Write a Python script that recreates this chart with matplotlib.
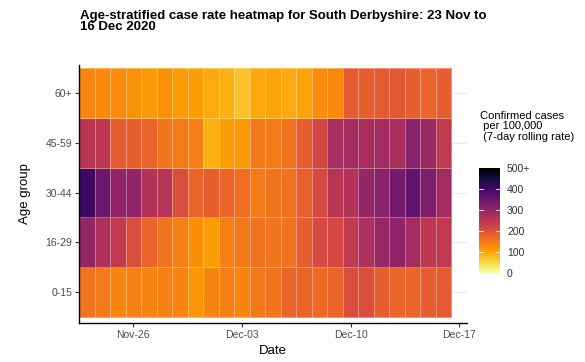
import numpy as np
import pandas as pd
import matplotlib
matplotlib.use("Agg")
import matplotlib.pyplot as plt
import matplotlib.dates as mdates

plt.rcParams['font.family'] = ['Liberation Sans', 'DejaVu Sans']

# donnees (cas pour 100 000, moyenne glissante 7 jours)
dates = pd.date_range('2020-11-23', '2020-12-16', freq='D')
age_groups = ['0-15', '16-29', '30-44', '45-59', '60+']

rate_0_15 = [156, 148, 133, 139, 133, 139, 133, 117, 133, 139, 133, 150,
             156, 172, 172, 167, 172, 206, 206, 183, 172, 172, 183, 186]
rate_16_29 = [300, 267, 244, 206, 172, 156, 139, 124, 109, 139, 150, 158,
              153, 158, 180, 211, 214, 244, 269, 294, 306, 278, 247, 241]
rate_30_44 = [406, 350, 306, 306, 261, 256, 206, 172, 180, 172, 161, 147,
              156, 158, 178, 211, 253, 259, 298, 311, 339, 361, 328, 283]
rate_45_59 = [250, 248, 187, 180, 172, 153, 148, 139, 89, 106, 113, 150,
              148, 156, 180, 217, 276, 278, 272, 283, 272, 311, 292, 244]
rate_60 = [133, 130, 126, 120, 113, 122, 111, 106, 94, 89, 72, 97,
           100, 94, 103, 126, 130, 187, 180, 187, 191, 182, 172, 183]

cb_ticks = [0, 100, 200, 300, 400, 500]
cb_labels = ['0', '100', '200', '300', '400', '500+']

rates = np.array([rate_0_15, rate_16_29, rate_30_44, rate_45_59, rate_60])

fig = plt.figure(figsize=(5.85, 3.62), dpi=100)
ax = fig.add_axes([79 / 585, 1 - 323 / 362, (467 - 79) / 585, (323 - 65) / 362])

x_edges = mdates.date2num(dates) - 0.5
x_edges = np.append(x_edges, x_edges[-1] + 1)
y_edges = np.arange(len(age_groups) + 1) - 0.5

ax.set_axisbelow(True)
ax.grid(axis='y', color='#ebebeb', linewidth=0.8)
mesh = ax.pcolormesh(x_edges, y_edges, rates, cmap='inferno_r', vmin=0, vmax=500,
                     edgecolors=(1, 1, 1, 0.35), linewidth=0.6)

ax.set_xlim(x_edges[0], x_edges[-1] + 1)
ax.set_ylim(-0.62, 4.56)
ax.set_yticks(range(len(age_groups)))
ax.set_yticklabels(age_groups)
ax.xaxis.set_major_locator(mdates.DayLocator(bymonthday=[26, 3, 10, 17]))
ax.xaxis.set_major_formatter(mdates.DateFormatter('%b-%d'))

for side in ['top', 'right']:
    ax.spines[side].set_visible(False)
for side in ['left', 'bottom']:
    ax.spines[side].set_linewidth(1.0)
ax.tick_params(labelsize=7.5, length=3, width=0.8, color='#333333', labelcolor='#4d4d4d', pad=2)
ax.set_xlabel('Date', fontsize=9.5, labelpad=4)
ax.set_ylabel('Age group', fontsize=9.5, labelpad=10)

fig.text(80 / 585, 1 - 10 / 362, 'Age-stratified case rate heatmap for South Derbyshire: 23 Nov to\n16 Dec 2020',
         fontsize=9.5, fontweight='bold', va='top', ha='left', linespacing=0.9)

cax = fig.add_axes([479 / 585, 1 - 273 / 362, 21 / 585, 105 / 362])
cb = fig.colorbar(mesh, cax=cax, ticks=cb_ticks)
cb.set_ticklabels(cb_labels)
cb.outline.set_visible(False)
cax.tick_params(labelsize=7.5, length=0, pad=5, labelcolor='#333333')
for t in cb_ticks[1:-1]:
    cax.plot([0, 0.2], [t, t], color='white', linewidth=0.6, transform=cax.get_yaxis_transform())
    cax.plot([0.8, 1], [t, t], color='white', linewidth=0.6, transform=cax.get_yaxis_transform())
fig.text(480 / 585, 1 - 111 / 362, 'Confirmed cases\n per 100,000\n (7-day rolling rate)',
         fontsize=8, va='top', ha='left', linespacing=1.05)

fig.savefig('out.png', dpi=100)
plt.close()
